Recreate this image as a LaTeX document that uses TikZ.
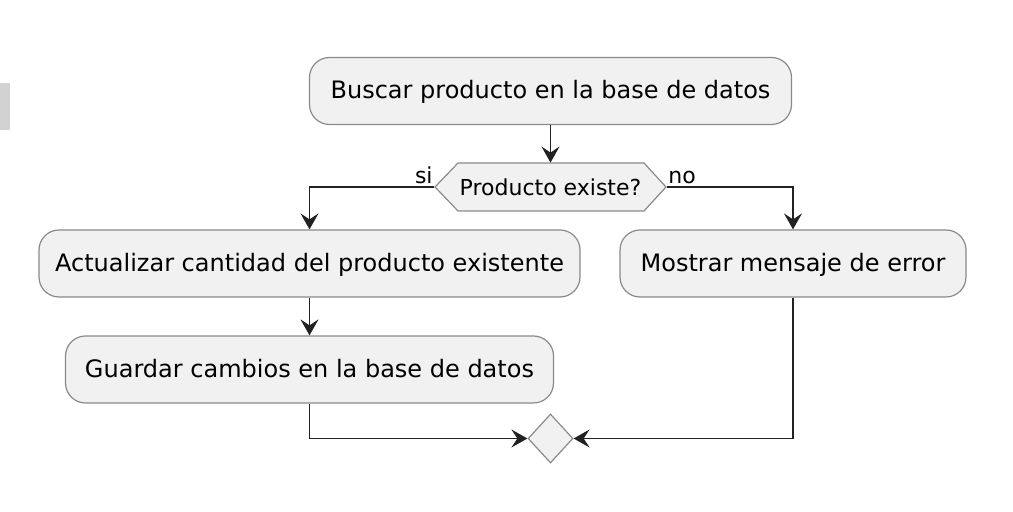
\documentclass[tikz,border=0pt]{standalone}
\usepackage{fontspec}
\setmainfont{DejaVu Sans}
\usetikzlibrary{arrows.meta,shapes.geometric}
\definecolor{boxfill}{HTML}{F1F1F1}
\definecolor{boxline}{HTML}{8A8A8A}
\definecolor{arrowcol}{HTML}{222222}
\begin{document}
\begin{tikzpicture}[x=0.5pt,y=-0.5pt,
  actbox/.style={draw=boxline,fill=boxfill,line width=0.6pt,rounded corners=10pt,
    minimum height=33.5pt,inner sep=0pt,font=\fontsize{12}{14}\selectfont,text=black,
    text height=9.5pt,text depth=1.5pt},
  hexlabel/.style={draw=none,minimum width=116pt,minimum height=24pt,inner sep=0pt,
    font=\fontsize{11}{13}\selectfont,text=black},
  mergebox/.style={diamond,draw=boxline,fill=boxfill,line width=0.6pt,inner sep=0pt,
    minimum width=22.5pt,minimum height=24.5pt},
  flow/.style={draw=arrowcol,line width=0.8pt,-{Stealth[length=8pt,width=9pt,inset=3pt]}},
  brlabel/.style={font=\fontsize{11}{13}\selectfont,text=black,inner sep=0pt}
]
\useasboundingbox (0,0) rectangle (1013,512);
% small widget at the left edge
\fill[gray!35] (0,83) rectangle (10,130);
% nodes
\node[actbox,minimum width=241pt] (search) at (550.5,91) {Buscar producto en la base de datos};
\fill[boxfill,draw=boxline,line width=0.6pt] (435,187) -- (458,163) -- (644,163) -- (666,187) -- (644,211) -- (458,211) -- cycle;
\node[hexlabel] (exists) at (550.5,187) {Producto existe?};
\node[actbox,minimum width=270.5pt] (update) at (309.5,263.5) {Actualizar cantidad del producto existente};
\node[actbox,minimum width=173pt] (error) at (793,263.5) {Mostrar mensaje de error};
\node[actbox,minimum width=244pt] (save) at (309.5,369.5) {Guardar cambios en la base de datos};
\node[mergebox] (merge) at (550.5,438.5) {};
% labels
\node[brlabel,anchor=south east] (si) at (433,184) {si};
\node[brlabel,anchor=south west] (no) at (668,184) {no};
% connectors
\draw[flow] (search.south) -- (exists.north);
\draw[flow] (exists.west) -| (update.north);
\draw[flow] (exists.east) -| (error.north);
\draw[flow] (update.south) -- (save.north);
\draw[flow] (save.south) |- (merge.west);
\draw[flow] (error.south) |- (merge.east);
\end{tikzpicture}
\end{document}
